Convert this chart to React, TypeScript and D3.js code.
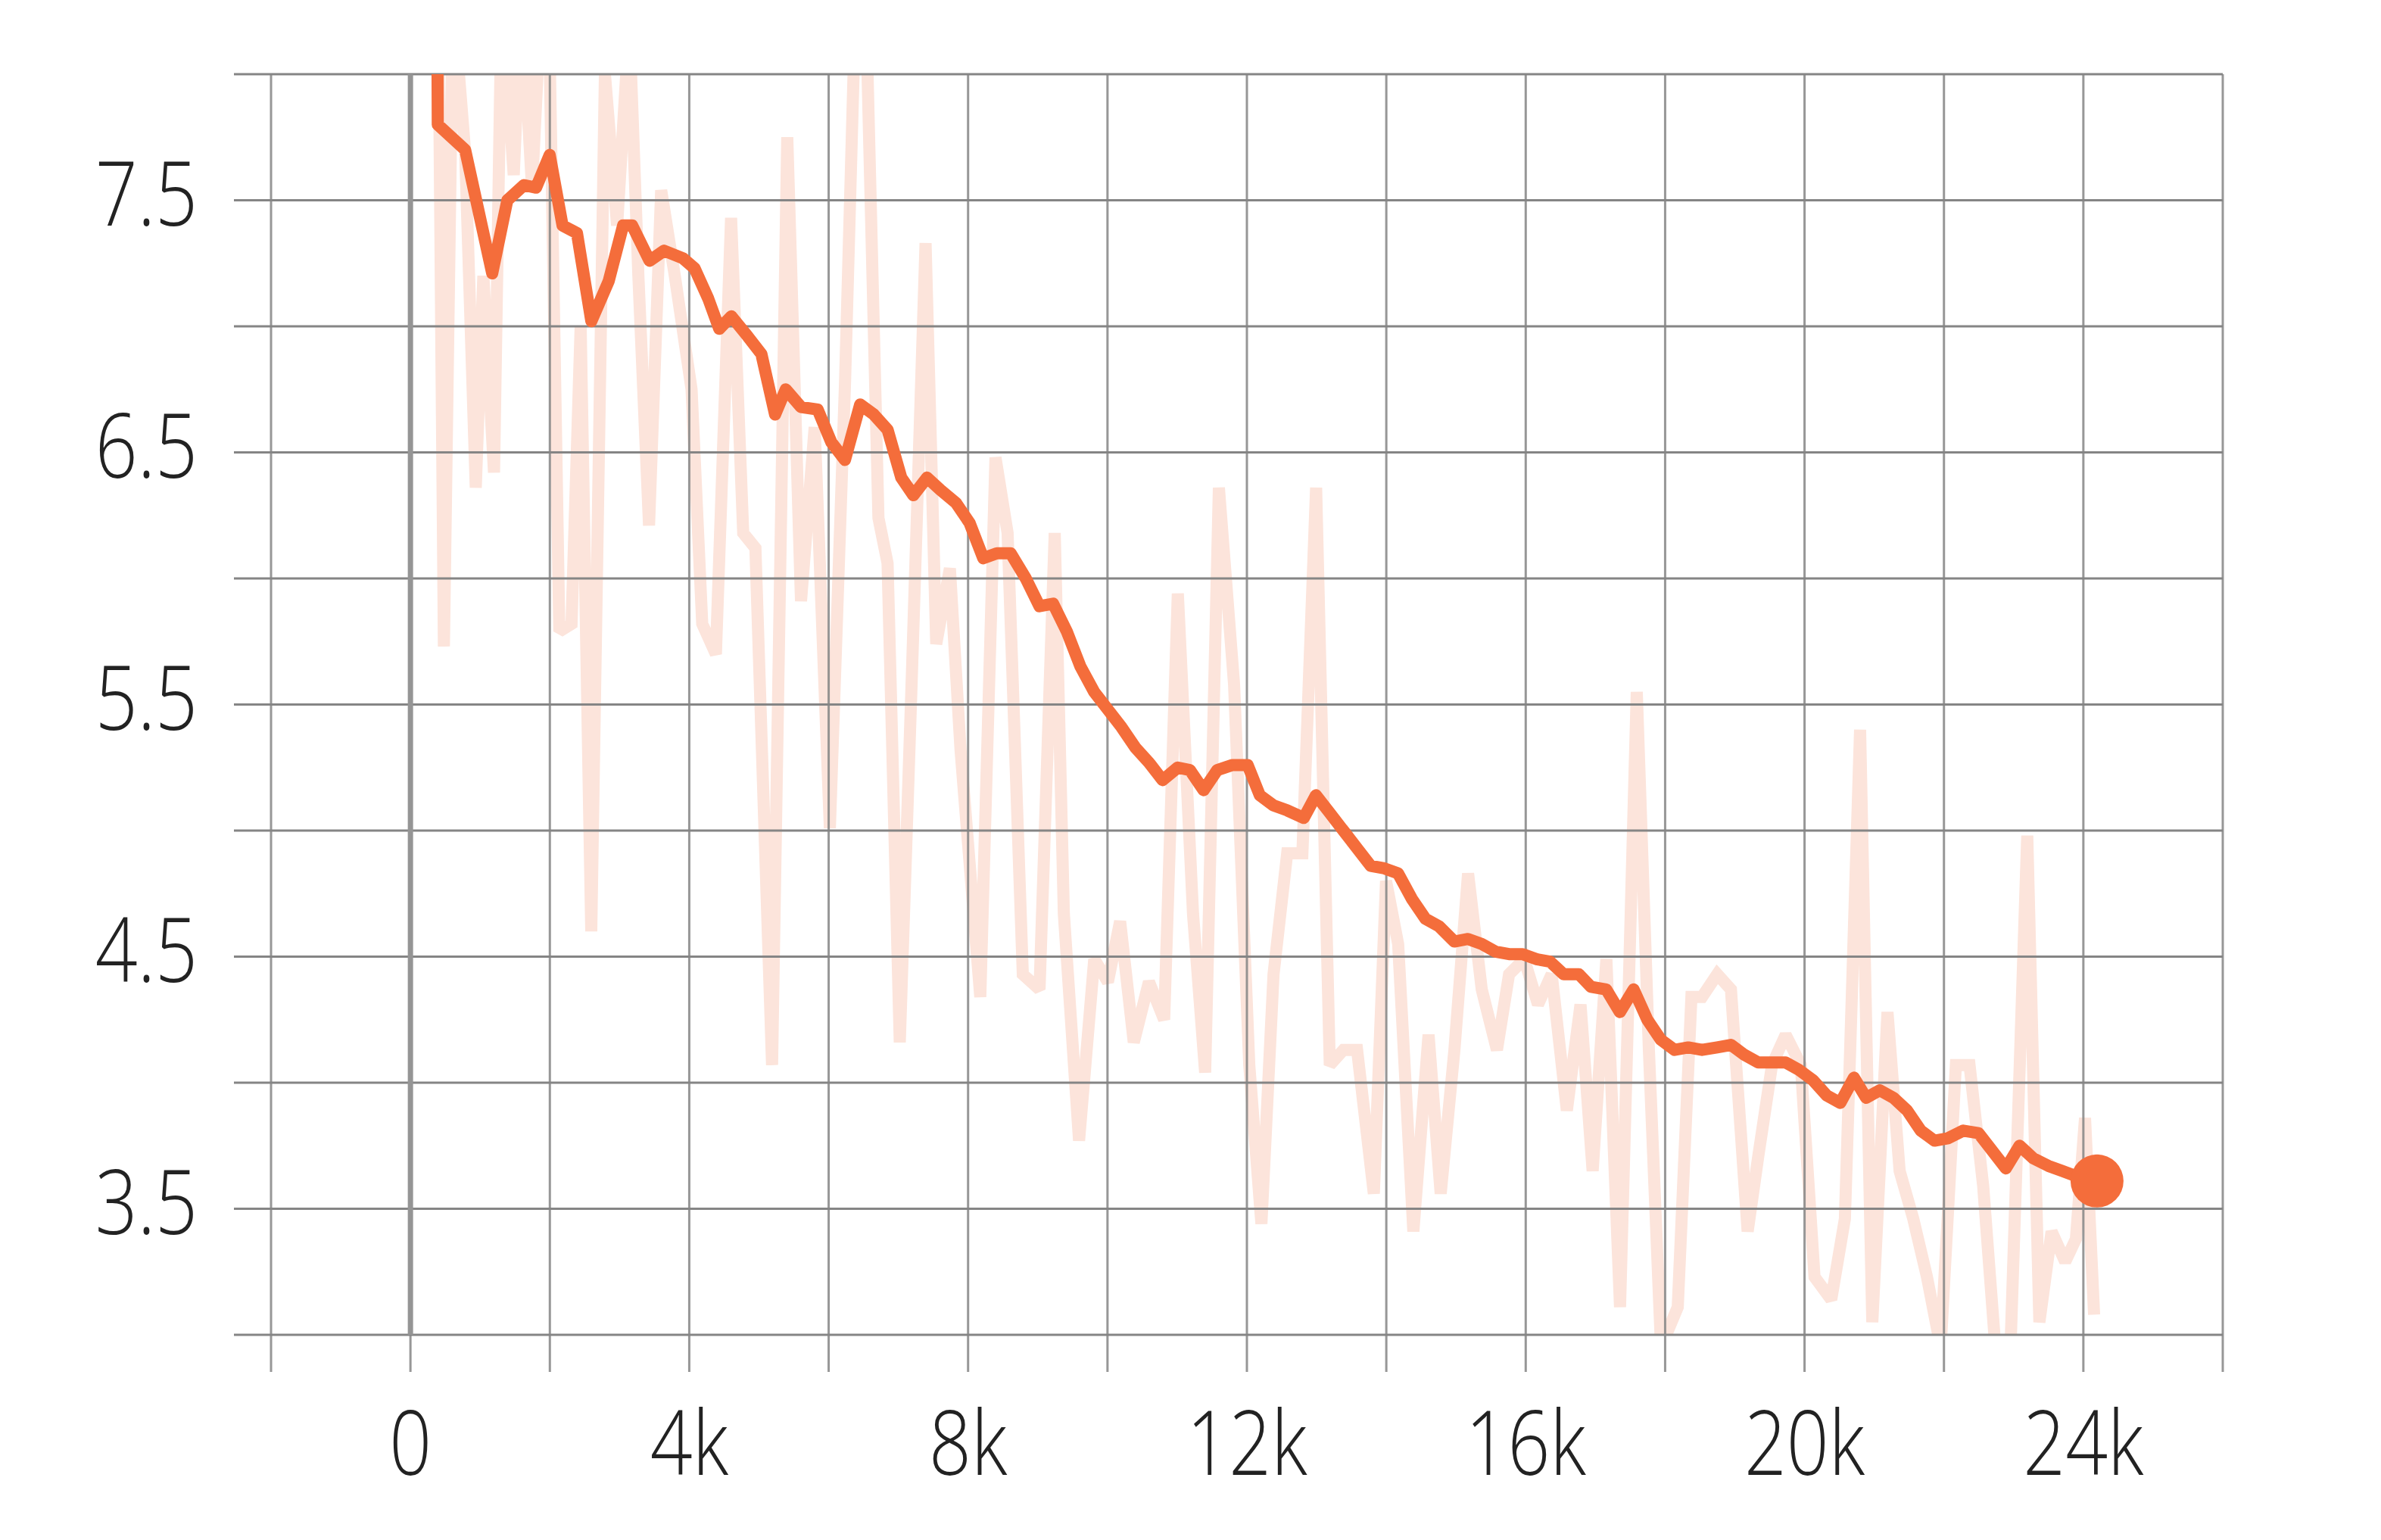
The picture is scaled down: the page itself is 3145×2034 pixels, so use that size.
import React from "react";
import * as d3 from "d3";

const smoothSteps = [380, 392, 785, 1173, 1390, 1629, 1802, 1998, 2182, 2389, 2595, 2845, 3051, 3181, 3431, 3638, 3909, 4076, 4272, 4430, 4604, 4839, 5035, 5231, 5384, 5602, 5842, 6038, 6234, 6452, 6649, 6845, 7041, 7215, 7411, 7607, 7825, 8022, 8218, 8414, 8610, 8828, 9024, 9220, 9416, 9613, 9809, 10005, 10201, 10397, 10594, 10790, 11008, 11182, 11379, 11575, 11793, 12011, 12185, 12381, 12578, 12817, 12991, 13188, 13384, 13580, 13776, 13972, 14169, 14365, 14561, 14757, 14975, 15172, 15368, 15564, 15760, 15956, 16153, 16349, 16545, 16763, 16937, 17155, 17351, 17548, 17744, 17940, 18136, 18332, 18529, 18747, 18943, 19139, 19335, 19532, 19728, 19924, 20120, 20316, 20513, 20709, 20883, 21079, 21275, 21471, 21667, 21864, 22060, 22278, 22496, 22692, 22888, 23085, 23281, 23499, 23695, 23891, 24196];
const smoothValues = [8.6, 7.8, 7.7, 7.21, 7.5, 7.56, 7.55, 7.68, 7.4, 7.37, 7.02, 7.18, 7.4, 7.4, 7.26, 7.3, 7.27, 7.23, 7.11, 6.99, 7.04, 6.96, 6.89, 6.65, 6.75, 6.68, 6.67, 6.54, 6.47, 6.69, 6.65, 6.59, 6.4, 6.33, 6.4, 6.35, 6.3, 6.22, 6.08, 6.1, 6.1, 6.0, 5.89, 5.9, 5.79, 5.65, 5.55, 5.48, 5.41, 5.33, 5.27, 5.2, 5.25, 5.24, 5.16, 5.24, 5.26, 5.26, 5.14, 5.1, 5.08, 5.05, 5.14, 5.07, 5.0, 4.93, 4.86, 4.85, 4.83, 4.73, 4.65, 4.62, 4.56, 4.57, 4.55, 4.52, 4.51, 4.51, 4.49, 4.48, 4.43, 4.43, 4.38, 4.37, 4.28, 4.37, 4.25, 4.17, 4.13, 4.14, 4.13, 4.14, 4.15, 4.11, 4.08, 4.08, 4.08, 4.05, 4.01, 3.95, 3.92, 4.02, 3.94, 3.97, 3.94, 3.89, 3.81, 3.77, 3.78, 3.81, 3.8, 3.73, 3.66, 3.75, 3.7, 3.67, 3.65, 3.63, 3.61];

const rawSteps = [392, 480, 610, 785, 937, 1046, 1199, 1308, 1482, 1591, 1744, 1875, 1984, 2136, 2311, 2442, 2594, 2790, 2965, 3139, 3270, 3423, 3597, 3793, 4033, 4186, 4382, 4600, 4774, 4949, 5188, 5406, 5603, 5799, 6017, 6235, 6387, 6540, 6714, 6845, 7020, 7194, 7390, 7543, 7739, 7892, 8175, 8393, 8567, 8785, 9025, 9243, 9374, 9592, 9810, 10006, 10181, 10377, 10595, 10813, 11009, 11227, 11401, 11598, 11816, 12034, 12208, 12382, 12578, 12796, 12993, 13189, 13385, 13581, 13821, 13996, 14170, 14388, 14606, 14780, 14977, 15173, 15369, 15587, 15761, 15979, 16176, 16372, 16590, 16786, 16960, 17157, 17353, 17593, 17767, 17941, 18181, 18377, 18530, 18748, 18944, 19184, 19337, 19533, 19729, 19947, 20143, 20383, 20579, 20797, 20972, 21190, 21364, 21560, 21756, 21953, 22171, 22367, 22563, 22737, 22955, 23195, 23369, 23544, 23740, 23893, 24024, 24154];
const rawValues = [8.6, 5.73, 8.3, 7.69, 6.36, 7.2, 6.42, 8.3, 7.6, 8.3, 7.55, 8.3, 8.3, 5.79, 5.82, 7.0, 4.6, 8.0, 7.4, 8.2, 7.2, 6.21, 7.54, 7.2, 6.75, 5.82, 5.7, 7.43, 6.18, 6.12, 4.07, 7.75, 5.91, 6.6, 5.01, 6.78, 8.3, 8.2, 6.24, 6.06, 4.16, 5.62, 7.33, 5.74, 6.04, 5.32, 4.34, 6.48, 6.18, 4.43, 4.37, 6.18, 4.67, 3.77, 4.49, 4.4, 4.64, 4.16, 4.4, 4.25, 5.94, 4.67, 4.04, 6.36, 5.58, 4.07, 3.44, 4.43, 4.91, 4.91, 6.36, 4.07, 4.13, 4.13, 3.56, 4.8, 4.55, 3.41, 4.19, 3.56, 4.13, 4.83, 4.37, 4.13, 4.43, 4.49, 4.31, 4.43, 3.89, 4.31, 3.65, 4.49, 3.11, 5.55, 4.13, 2.95, 3.11, 4.34, 4.34, 4.43, 4.37, 3.41, 3.71, 4.07, 4.19, 4.07, 3.23, 3.14, 3.46, 5.4, 3.05, 4.28, 3.65, 3.46, 3.23, 2.95, 4.07, 4.07, 3.59, 2.95, 2.95, 4.98, 3.05, 3.41, 3.29, 3.38, 3.86, 3.08];

const xGridTicks = [-2000, 0, 2000, 4000, 6000, 8000, 10000, 12000, 14000, 16000, 18000, 20000, 22000, 24000, 26000];
const xLabelTicks = [0, 4000, 8000, 12000, 16000, 20000, 24000];
const xLabels = ["0", "4k", "8k", "12k", "16k", "20k", "24k"];
const yGridTicks = [3, 3.5, 4, 4.5, 5, 5.5, 6, 6.5, 7, 7.5, 8];
const yLabelTicks = [3.5, 4.5, 5.5, 6.5, 7.5];
const yLabels = ["3.5", "4.5", "5.5", "6.5", "7.5"];

const W = 3145;
const H = 2034;
const PLOT = { left: 358, right: 2936, top: 98, bottom: 1763 };
const FONT = "'Open Sans', 'Noto Sans', sans-serif";

export default function App() {
  React.useEffect(() => {
    document.body.style.margin = "0";
    document.body.style.overflow = "hidden";
  }, []);

  const x = d3.scaleLinear().domain([-2000, 26000]).range([PLOT.left, PLOT.right]);
  const y = d3.scaleLinear().domain([3, 8]).range([PLOT.bottom, PLOT.top]);

  const line = d3
    .line<[number, number]>()
    .x((d) => x(d[0]))
    .y((d) => y(d[1]));

  const smooth: [number, number][] = smoothSteps.map((s, i) => [s, smoothValues[i]]);
  const raw: [number, number][] = rawSteps.map((s, i) => [s, rawValues[i]]);
  const last = smooth[smooth.length - 1];

  const gridColor = "#858585";
  const textScale = 0.83;

  return (
    <svg width={W} height={H} style={{ position: "absolute", left: 0, top: 0, background: "#fff" }}>
      <defs>
        <clipPath id="plotClip">
          <rect x={PLOT.left} y={PLOT.top} width={PLOT.right - PLOT.left} height={PLOT.bottom - PLOT.top} />
        </clipPath>
      </defs>
      <rect x={0} y={0} width={W} height={H} fill="#fff" />

      <path
        d={line(raw) || ""}
        fill="none"
        stroke="#fce4db"
        strokeWidth={16}
        strokeLinejoin="miter"
        strokeMiterlimit={2}
        clipPath="url(#plotClip)"
      />

      {yGridTicks.map((t) => (
        <line key={"yg" + t} x1={309} x2={PLOT.right} y1={y(t)} y2={y(t)} stroke={gridColor} strokeWidth={3} />
      ))}
      {xGridTicks.map((t) => (
        <line key={"xg" + t} x1={x(t)} x2={x(t)} y1={PLOT.top} y2={1812} stroke={gridColor} strokeWidth={3} opacity={0.85} />
      ))}
      <line x1={x(0)} x2={x(0)} y1={PLOT.top} y2={PLOT.bottom} stroke="#959595" strokeWidth={7} />

      <path
        d={line(smooth) || ""}
        fill="none"
        stroke="#f46d3b"
        strokeWidth={16}
        strokeLinejoin="round"
        clipPath="url(#plotClip)"
      />
      <circle cx={x(last[0])} cy={y(last[1])} r={35} fill="#f46d3b" />

      {yLabelTicks.map((t, i) => (
        <text
          key={"yl" + t}
          transform={`translate(261, ${y(t) + 33}) scale(${textScale}, 1)`}
          textAnchor="end"
          fontFamily={FONT}
          fontWeight={300}
          fontSize={118}
          fill="#222"
        >
          {yLabels[i]}
        </text>
      ))}
      {xLabelTicks.map((t, i) => (
        <text
          key={"xl" + t}
          transform={`translate(${x(t)}, 1948) scale(${textScale}, 1)`}
          textAnchor="middle"
          fontFamily={FONT}
          fontWeight={300}
          fontSize={118}
          fill="#222"
        >
          {xLabels[i]}
        </text>
      ))}
    </svg>
  );
}
